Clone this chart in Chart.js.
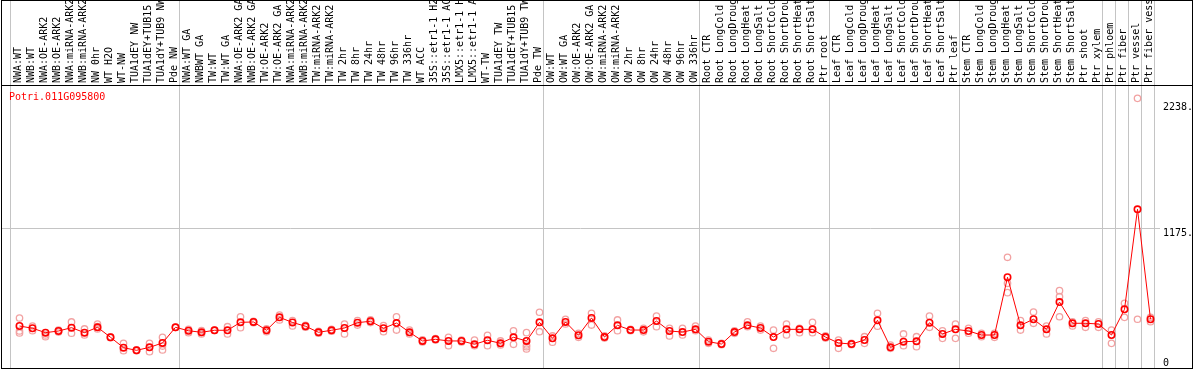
<!doctype html>
<html lang="en">
<head>
<meta charset="utf-8">
<title>Potri.011G095800</title>
<style>
  * { margin: 0; padding: 0; }
  body { background: #fff; }
  .chartBox { position: relative; width: 1194px; height: 370px; }
  .chartTitle {
    position: absolute; left: 9px; top: 91px;
    font: 10px 'DejaVu Sans Mono', monospace; color: #ff0000;
  }
</style>
</head>
<body>
<div class="chartBox">
  <canvas id="myChart" width="1194" height="370"></canvas>
  <div class="chartTitle">Potri.011G095800</div>
</div>
<script src="https://cdn.jsdelivr.net/npm/chart.js"></script>
<script>
  // sample names, left to right
  const labels = [
    'NWA:WT', 'NWB:WT', 'NWA:OE-ARK2', 'NWB:OE-ARK2', 'NWA:miRNA-ARK2', 'NWB:miRNA-ARK2',
    'NW 0hr', 'WT H2O', 'WT-NW', 'TUA1dEY NW', 'TUA1dEY+TUB15 NW', 'TUA1dY+TUB9 NW', 'Pde NW',
    'NWA:WT GA', 'NWBWT GA', 'TW:WT', 'TW:WT GA', 'NWA:OE-ARK2 GA', 'NWB:OE-ARK2 GA',
    'TW:OE-ARK2', 'TW:OE-ARK2 GA', 'NWA:miRNA-ARK2 GA', 'NWB:miRNA-ARK2 GA', 'TW:miRNA-ARK2',
    'TW:miRNA-ARK2 GA', 'TW 2hr', 'TW 8hr', 'TW 24hr', 'TW 48hr', 'TW 96hr', 'TW 336hr', 'WT ACC',
    '35S::etr1-1 H2O', '35S::etr1-1 ACC', 'LMX5::etr1-1 H2O', 'LMX5::etr1-1 ACC', 'WT-TW',
    'TUA1dEY TW', 'TUA1dEY+TUB15 TW', 'TUA1dY+TUB9 TW', 'Pde TW',
    'OW:WT', 'OW:WT GA', 'OW:OE-ARK2', 'OW:OE-ARK2 GA', 'OW:miRNA-ARK2', 'OW:miRNA-ARK2 GA',
    'OW 2hr', 'OW 8hr', 'OW 24hr', 'OW 48hr', 'OW 96hr', 'OW 336hr',
    'Root CTR', 'Root LongCold', 'Root LongDrought', 'Root LongHeat', 'Root LongSalt',
    'Root ShortCold', 'Root ShortDrought', 'Root ShortHeat', 'Root ShortSalt', 'Ptr root',
    'Leaf CTR', 'Leaf LongCold', 'Leaf LongDrought', 'Leaf LongHeat', 'Leaf LongSalt',
    'Leaf ShortCold', 'Leaf ShortDrought', 'Leaf ShortHeat', 'Leaf ShortSalt', 'Ptr leaf',
    'Stem CTR', 'Stem LongCold', 'Stem LongDrought', 'Stem LongHeat', 'Stem LongSalt',
    'Stem ShortCold', 'Stem ShortDrought', 'Stem ShortHeat', 'Stem ShortSalt', 'Ptr shoot', 'Ptr xylem',
    'Ptr phloem', 'Ptr fiber', 'Ptr vessel', 'Ptr fiber vessel'
  ];

  // index of the first sample of each group (last entry = end)
  const groupStarts = [0, 13, 41, 53, 63, 73, 84, 85, 86, 87, 88];

  // mean expression per sample
  const means = [
    354, 335, 298, 312, 340, 298, 343, 259, 171, 149,
    174, 211, 343, 314, 301, 318, 318, 385, 388, 318,
    427, 384, 352, 301, 318, 337, 382, 394, 335, 379,
    301, 228, 242, 228, 228, 200, 234, 208, 259, 228,
    385, 250, 388, 276, 422, 261, 360, 320, 320, 396,
    312, 303, 326, 222, 202, 303, 360, 337, 261, 326,
    326, 326, 261, 211, 202, 236, 402, 174, 222, 225,
    382, 287, 326, 312, 278, 278, 765, 360, 411, 326,
    556, 377, 377, 371, 278, 495, 1338, 411
  ];

  // replicates (null = no replicate)
  const rep1 = [
    421, 354, 278, 320, 388, 329, 371, 262, 208, 152,
    208, 259, 343, 326, 287, 320, 348, 432, 394, 306,
    447, 399, 360, 293, 326, 371, 399, 405, 357, 432,
    320, 219, 247, 259, 236, 236, 276, 228, 314, 298,
    470, 270, 411, 293, 461, 270, 405, 326, 335, 438,
    335, 335, 354, 236, 208, 314, 390, 354, 320, 371,
    335, 385, 270, 236, 208, 264, 461, 194, 287, 264,
    438, 314, 371, 335, 293, 293, 933, 399, 472, 354,
    652, 390, 399, 390, 320, 545, 2273, 427
  ];
  const rep2 = [
    312, 314, 264, 303, 293, 278, 348, 256, 146, 146,
    137, 185, 343, 298, 315, 316, 287, 340, 382, 330,
    405, 354, 344, 309, 310, 287, 362, 383, 306, 320,
    287, 237, 237, 188, 220, 188, 188, 194, 200, 194,
    306, 217, 371, 259, 362, 252, 314, 314, 305, 348,
    270, 278, 314, 208, 196, 292, 348, 320, 166, 278,
    298, 298, 252, 166, 196, 208, 352, 166, 188, 180,
    343, 250, 250, 293, 264, 259, 714, 320, 377, 287,
    601, 354, 343, 343, 208, 427, 411, 390
  ];
  const rep3 = [
    295, null, null, null, null, null, 329, null, null, null,
    null, 152, null, null, null, null, null, null, null, null,
    null, null, null, null, null, null, null, null, null, null,
    null, null, null, null, null, null, null, null, null, 180,
    null, null, null, null, null, null, null, null, null, null,
    null, null, null, null, null, null, null, null, null, null,
    null, null, null, null, null, null, null, null, null, null,
    null, null, null, null, null, null, 635, null, null, null,
    432, null, null, null, null, null, null, null
  ];
  const rep4 = [
    null, null, null, null, null, null, null, null, null, null,
    null, null, null, null, null, null, null, null, null, null,
    null, null, null, null, null, null, null, null, null, null,
    null, null, null, null, null, null, null, null, null, 160,
    null, null, null, null, null, null, null, null, null, null,
    null, null, null, null, null, null, null, null, null, null,
    null, null, null, null, null, null, null, null, null, null,
    null, null, null, null, null, null, null, null, null, null,
    null, null, null, null, null, null, null, null
  ];

  const yTicks = [0, 1175, 2238];
  const yTickText = ['0', '1175.', '2238.'];

  const mono = 'DejaVu Sans Mono';
  const gridGrey = '#c4c4c4';
  const clear = 'rgba(0,0,0,0)';

  // one sample every 13px, first sample at x=19.5
  const pitch = 13;
  const firstPx = 19.5;
  // value 0 sits on y=368, about 8.43 units per pixel
  const baseY = 368;
  const perPx = 8.43;
  // group separators sit a bit left of the sample points
  const sepShift = 9 / 13;
  const sepValues = groupStarts.map(k => k - sepShift);
  const xTickValues = labels.map((l, i) => i).concat(sepValues).sort((a, b) => a - b);

  const toPts = arr => arr.map((v, i) => v == null ? null : { x: i, y: v }).filter(p => p);

  const repStyle = {
    showLine: false,
    pointRadius: 3.2,
    pointBorderWidth: 1.3,
    pointBorderColor: '#f2a2a2',
    pointBackgroundColor: clear,
    order: 1
  };

  // draws the outer black box and the separator under the sample names
  const framePlugin = {
    id: 'frame',
    afterDraw(chart) {
      const ctx = chart.ctx;
      const top = chart.chartArea.top;
      ctx.save();
      ctx.strokeStyle = '#000';
      ctx.lineWidth = 1;
      ctx.strokeRect(1.5, 0.5, 1191, 368);
      ctx.beginPath();
      ctx.moveTo(1, top + 0.5);
      ctx.lineTo(1193, top + 0.5);
      ctx.stroke();
      ctx.restore();
    }
  };

  const data = {
    datasets: [
      {
        label: 'mean',
        data: toPts(means),
        showLine: true,
        borderColor: '#ff0000',
        borderWidth: 1,
        pointRadius: 3.2,
        pointBorderWidth: 1.6,
        pointBorderColor: '#ff0000',
        pointBackgroundColor: clear,
        order: 0
      },
      Object.assign({ label: 'rep1', data: toPts(rep1) }, repStyle),
      Object.assign({ label: 'rep2', data: toPts(rep2) }, repStyle),
      Object.assign({ label: 'rep3', data: toPts(rep3) }, repStyle),
      Object.assign({ label: 'rep4', data: toPts(rep4) }, repStyle)
    ]
  };

  const config = {
    type: 'scatter',
    data,
    options: {
      responsive: false,
      animation: false,
      layout: { autoPadding: false, padding: { left: 1, right: 2, top: 0, bottom: 2 } },
      plugins: { legend: { display: false }, tooltip: { enabled: false } },
      scales: {
        x: {
          type: 'linear',
          position: 'top',
          min: -18.5 / 13,
          max: 1140.5 / 13,
          bounds: 'data',
          afterBuildTicks: s => { s.ticks = xTickValues.map(v => ({ value: v })); },
          afterFit: s => {
            s.height = 85;
            s.paddingLeft = 0;
            s.paddingRight = 0;
          },
          ticks: {
            autoSkip: false,
            minRotation: 90,
            maxRotation: 90,
            padding: -83,
            labelOffset: 11,
            color: '#000',
            font: { family: mono, size: 10 },
            callback: v => Number.isInteger(v) ? labels[v] : ''
          },
          grid: {
            color: c => (c.tick && !Number.isInteger(c.tick.value)) ? gridGrey : clear,
            lineWidth: 1,
            drawTicks: true,
            tickLength: 85
          },
          border: { display: false }
        },
        y: {
          position: 'right',
          min: 0,
          max: 283 * perPx,
          afterBuildTicks: s => { s.ticks = yTicks.map(v => ({ value: v })); },
          afterFit: s => {
            s.width = 32;
            s.paddingTop = 0;
            s.paddingBottom = 0;
          },
          ticks: {
            align: 'start',
            padding: 3,
            color: '#000',
            font: c => ({ family: mono, size: 10, lineHeight: (c.tick && c.tick.value === 0) ? 2 : 1.2 }),
            callback: (v, i) => i === 0 ? [yTickText[0], ''] : yTickText[i]
          },
          grid: {
            drawTicks: false,
            color: c => (c.tick && c.tick.value === 1175) ? gridGrey : clear
          },
          border: { display: false }
        }
      }
    },
    plugins: [framePlugin]
  };

  const myChart = new Chart(document.getElementById('myChart'), config);

  // pin the sample spacing and value scale to the final plot area
  const sx = myChart.scales.x;
  const sy = myChart.scales.y;
  myChart.options.scales.x.min = (sx.left - firstPx) / pitch;
  myChart.options.scales.x.max = (sx.right - firstPx) / pitch;
  myChart.options.scales.y.min = (baseY - sy.bottom) * perPx;
  myChart.options.scales.y.max = (baseY - sy.top) * perPx;
  myChart.update();
</script>
</body>
</html>
